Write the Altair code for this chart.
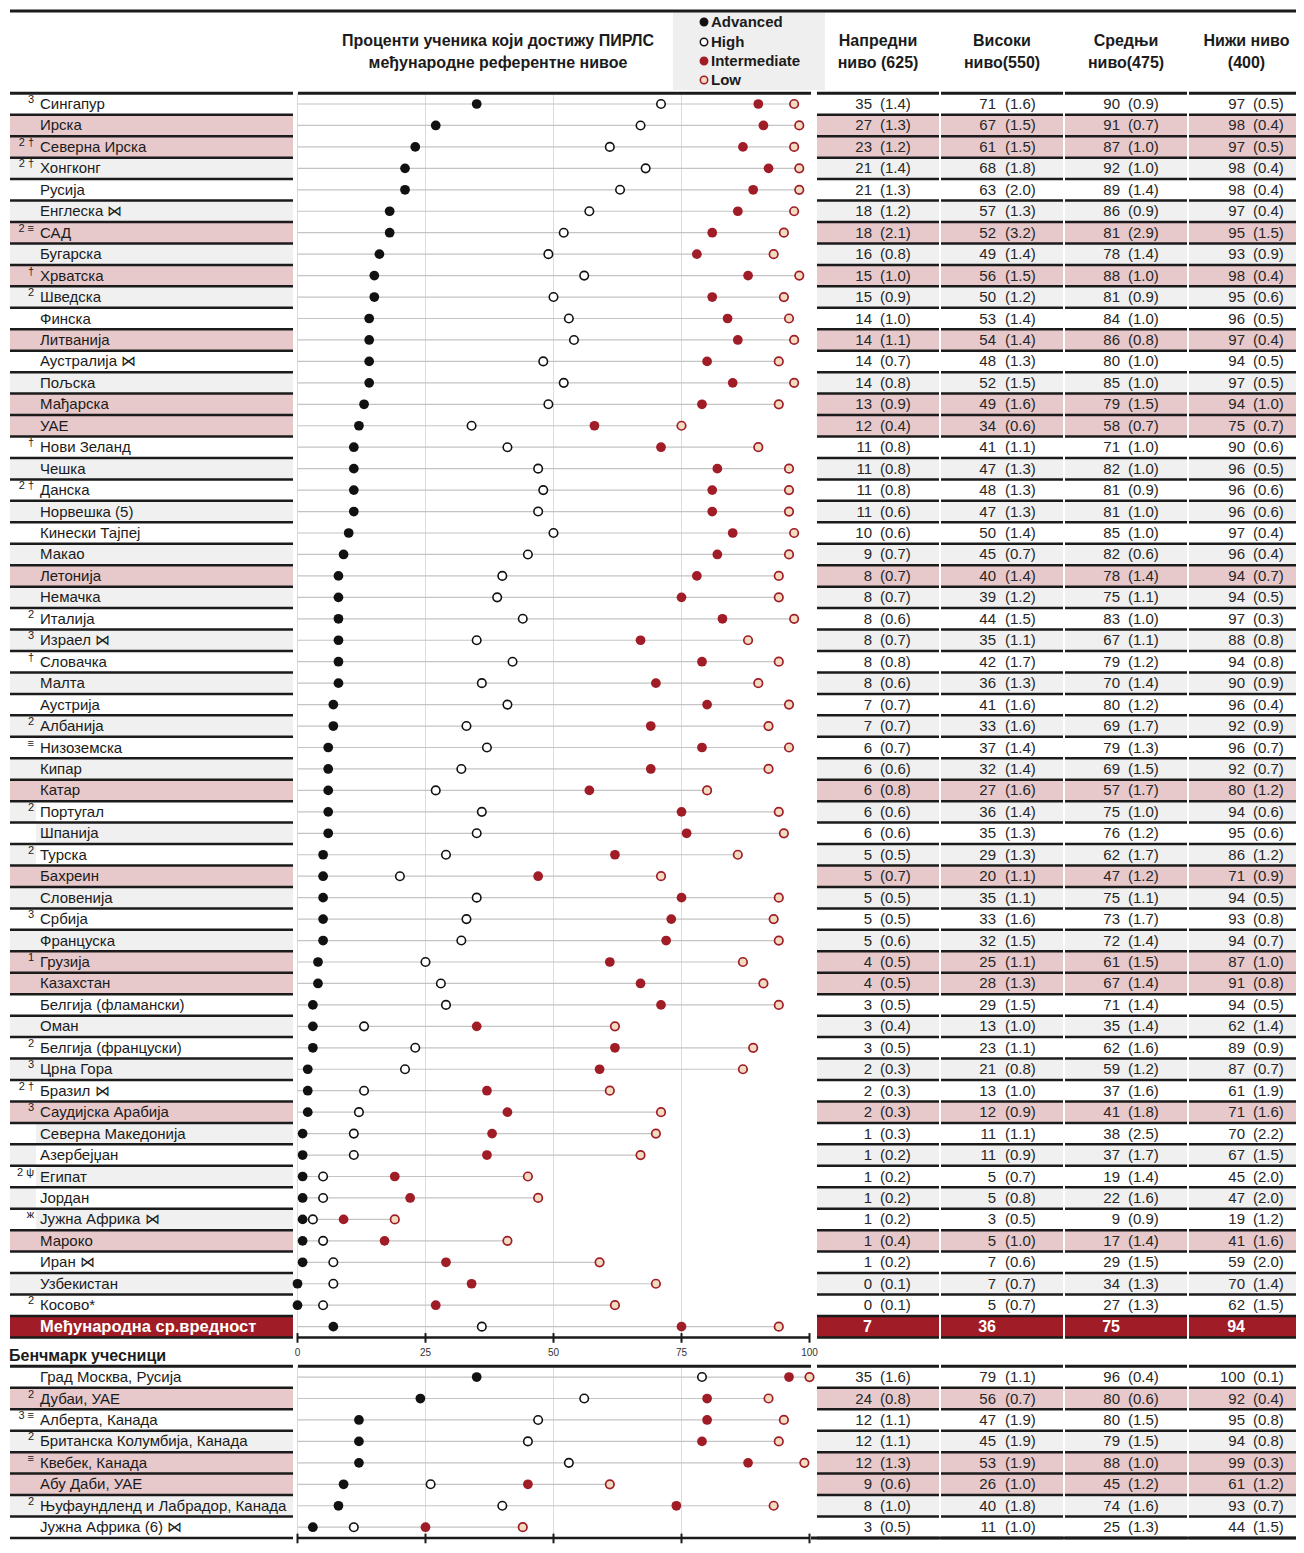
import altair as alt
import pandas as pd

# ---------------- data ----------------
countries = ["Сингапур", "Ирска", "Северна Ирска", "Хонгконг", "Русија", "Енглеска ⋈", "САД",
             "Бугарска", "Хрватска", "Шведска", "Финска", "Литванија", "Аустралија ⋈", "Пољска",
             "Мађарска", "УАЕ", "Нови Зеланд", "Чешка", "Данска", "Норвешка (5)", "Кинески Тајпеј",
             "Макао", "Летонија", "Немачка", "Италија", "Израел ⋈", "Словачка", "Малта", "Аустрија",
             "Албанија", "Низоземска", "Кипар", "Катар", "Португал", "Шпанија", "Турска", "Бахреин",
             "Словенија", "Србија", "Француска", "Грузија", "Казахстан", "Белгија (фламански)", "Оман",
             "Белгија (француски)", "Црна Гора", "Бразил ⋈", "Саудијска Арабија", "Северна Македонија",
             "Азербејџан", "Египат", "Јордан", "Јужна Африка ⋈", "Мароко", "Иран ⋈", "Узбекистан",
             "Косово*"]
notes = ["3", "", "2 †", "2 †", "", "", "2 ≡", "", "†", "2",
         "", "", "", "", "", "", "†", "", "2 †", "",
         "", "", "", "", "2", "3", "†", "", "", "2",
         "≡", "", "", "2", "", "2", "", "", "3", "",
         "1", "", "", "", "2", "3", "2 †", "3", "", "",
         "2 ψ", "", "ж", "", "", "", "2"]
row_bg = ("W P P G W G P G P G W P W G P P W G W G W G P G W G W G W G "
          "W G P G W G P G W G P P W G W G W P W G W G W P W G W").split()
name_bg = ("W P P G W G P G P G W P W G P P W G W G W G P G W G W G W G "
           "W G P W G W P G W G P P W G W G W P G W G W G P W G W").split()

adv = [35, 27, 23, 21, 21, 18, 18, 16, 15, 15, 14, 14, 14, 14, 13, 12, 11, 11, 11, 11,
       10, 9, 8, 8, 8, 8, 8, 8, 7, 7, 6, 6, 6, 6, 6, 5, 5, 5, 5, 5,
       4, 4, 3, 3, 3, 2, 2, 2, 1, 1, 1, 1, 1, 1, 1, 0, 0]
adv_se = [1.4, 1.3, 1.2, 1.4, 1.3, 1.2, 2.1, 0.8, 1.0, 0.9, 1.0, 1.1, 0.7, 0.8, 0.9, 0.4, 0.8, 0.8, 0.8, 0.6,
          0.6, 0.7, 0.7, 0.7, 0.6, 0.7, 0.8, 0.6, 0.7, 0.7, 0.7, 0.6, 0.8, 0.6, 0.6, 0.5, 0.7, 0.5, 0.5, 0.6,
          0.5, 0.5, 0.5, 0.4, 0.5, 0.3, 0.3, 0.3, 0.3, 0.2, 0.2, 0.2, 0.2, 0.4, 0.2, 0.1, 0.1]
high = [71, 67, 61, 68, 63, 57, 52, 49, 56, 50, 53, 54, 48, 52, 49, 34, 41, 47, 48, 47,
        50, 45, 40, 39, 44, 35, 42, 36, 41, 33, 37, 32, 27, 36, 35, 29, 20, 35, 33, 32,
        25, 28, 29, 13, 23, 21, 13, 12, 11, 11, 5, 5, 3, 5, 7, 7, 5]
high_se = [1.6, 1.5, 1.5, 1.8, 2.0, 1.3, 3.2, 1.4, 1.5, 1.2, 1.4, 1.4, 1.3, 1.5, 1.6, 0.6, 1.1, 1.3, 1.3, 1.3,
           1.4, 0.7, 1.4, 1.2, 1.5, 1.1, 1.7, 1.3, 1.6, 1.6, 1.4, 1.4, 1.6, 1.4, 1.3, 1.3, 1.1, 1.1, 1.6, 1.5,
           1.1, 1.3, 1.5, 1.0, 1.1, 0.8, 1.0, 0.9, 1.1, 0.9, 0.7, 0.8, 0.5, 1.0, 0.6, 0.7, 0.7]
inter = [90, 91, 87, 92, 89, 86, 81, 78, 88, 81, 84, 86, 80, 85, 79, 58, 71, 82, 81, 81,
         85, 82, 78, 75, 83, 67, 79, 70, 80, 69, 79, 69, 57, 75, 76, 62, 47, 75, 73, 72,
         61, 67, 71, 35, 62, 59, 37, 41, 38, 37, 19, 22, 9, 17, 29, 34, 27]
inter_se = [0.9, 0.7, 1.0, 1.0, 1.4, 0.9, 2.9, 1.4, 1.0, 0.9, 1.0, 0.8, 1.0, 1.0, 1.5, 0.7, 1.0, 1.0, 0.9, 1.0,
            1.0, 0.6, 1.4, 1.1, 1.0, 1.1, 1.2, 1.4, 1.2, 1.7, 1.3, 1.5, 1.7, 1.0, 1.2, 1.7, 1.2, 1.1, 1.7, 1.4,
            1.5, 1.4, 1.4, 1.4, 1.6, 1.2, 1.6, 1.8, 2.5, 1.7, 1.4, 1.6, 0.9, 1.4, 1.5, 1.3, 1.3]
low = [97, 98, 97, 98, 98, 97, 95, 93, 98, 95, 96, 97, 94, 97, 94, 75, 90, 96, 96, 96,
       97, 96, 94, 94, 97, 88, 94, 90, 96, 92, 96, 92, 80, 94, 95, 86, 71, 94, 93, 94,
       87, 91, 94, 62, 89, 87, 61, 71, 70, 67, 45, 47, 19, 41, 59, 70, 62]
low_se = [0.5, 0.4, 0.5, 0.4, 0.4, 0.4, 1.5, 0.9, 0.4, 0.6, 0.5, 0.4, 0.5, 0.5, 1.0, 0.7, 0.6, 0.5, 0.6, 0.6,
          0.4, 0.4, 0.7, 0.5, 0.3, 0.8, 0.8, 0.9, 0.4, 0.9, 0.7, 0.7, 1.2, 0.6, 0.6, 1.2, 0.9, 0.5, 0.8, 0.7,
          1.0, 0.8, 0.5, 1.4, 0.9, 0.7, 1.9, 1.6, 2.2, 1.5, 2.0, 2.0, 1.2, 1.6, 2.0, 1.4, 1.5]

avg_label = "Међународна ср.вредност"
avg_vals = [7, 36, 75, 94]

b_names = ["Град Москва, Русија", "Дубаи, УАЕ", "Алберта, Канада", "Британска Колумбија, Канада",
           "Квебек, Канада", "Абу Даби, УАЕ", "Њуфаундленд и Лабрадор, Канада", "Јужна Африка (6) ⋈"]
b_notes = ["", "2", "3 ≡", "2", "≡", "", "2", ""]
b_bg = ["W", "P", "W", "G", "P", "P", "G", "W"]
b_adv = [35, 24, 12, 12, 12, 9, 8, 3]
b_adv_se = [1.6, 0.8, 1.1, 1.1, 1.3, 0.6, 1.0, 0.5]
b_high = [79, 56, 47, 45, 53, 26, 40, 11]
b_high_se = [1.1, 0.7, 1.9, 1.9, 1.9, 1.0, 1.8, 1.0]
b_inter = [96, 80, 80, 79, 88, 45, 74, 25]
b_inter_se = [0.4, 0.6, 1.5, 1.5, 1.0, 1.2, 1.6, 1.3]
b_low = [100, 92, 95, 94, 99, 61, 93, 44]
b_low_se = [0.1, 0.4, 0.8, 0.8, 0.3, 1.2, 0.7, 1.5]

header_title = ["Проценти ученика који достижу ПИРЛС", "међународне референтне нивое"]
col_headers = [["Напредни", "ниво (625)"], ["Високи", "ниво(550)"], ["Средњи", "ниво(475)"], ["Нижи ниво", "(400)"]]
legend_items = ["Advanced", "High", "Intermediate", "Low"]
bench_title = "Бенчмарк учесници"
tick_values = [0, 25, 50, 75, 100]

# ---------------- style / layout ----------------
FONT = "Liberation Sans, Arial, Helvetica, sans-serif"
NFONT = "Liberation Sans Narrow, Arial Narrow, Liberation Sans, Arial, sans-serif"
INK = "#1b1b1b"
PINK, GRAY, WHITE, RED = "#E8C9CB", "#F0F0F0", "#FFFFFF", "#A01C26"
LOWFILL = "#F1DCC2"

W, H = 1288, 1537
ROW_PX = 21.45          # row pitch in pixels
ROW0_PX = 96.0          # centre of first row (chart pixels)
BENCH_POS = 59.35       # row position of first benchmark row
Y_DOMAIN = [-ROW0_PX / ROW_PX, (H - ROW0_PX) / ROW_PX]

XR = [289.5, 801.5]
NAME = (2, 285)
PREF_END = 28
COLS = [(809, 931), (933, 1055), (1057, 1179), (1181, 1296)]
NUM_R = [864, 988, 1112, 1237]
SE_L = [872, 997, 1120, 1245]
PLOT = (290, 803)

BG_SCALE = alt.Scale(domain=["W", "P", "G", "R"], range=[WHITE, PINK, GRAY, RED])
XS = alt.Scale(domain=[0, 100], range=XR, nice=False, zero=False)
YS = alt.Scale(domain=Y_DOMAIN, range=[0, H], nice=False, zero=False)

ONE = pd.DataFrame({"k": [0]})


def rows_df(names, nts, bg, nbg, a, ase, h, hse, m, mse, lo, lose, offset, section, avg=None):
    rows = []
    for i in range(len(names)):
        vals = [a[i], h[i], m[i], lo[i]]
        ses = [ase[i], hse[i], mse[i], lose[i]]
        r = dict(pos=offset + i, sec=section, note=nts[i], name=names[i], bg=bg[i], nbg=nbg[i], avg=0,
                 a=a[i], h=h[i], m=m[i], l=lo[i])
        for k in range(4):
            r[f"n{k}"] = str(vals[k])
            r[f"s{k}"] = f"({ses[k]:.1f})"
        rows.append(r)
    if avg is not None:
        r = dict(pos=offset + len(names), sec=section, note="", name=avg[0], bg="R", nbg="R", avg=1,
                 a=avg[1][0], h=avg[1][1], m=avg[1][2], l=avg[1][3])
        for k in range(4):
            r[f"n{k}"] = str(avg[1][k])
            r[f"s{k}"] = ""
        rows.append(r)
    return pd.DataFrame(rows)


df = pd.concat([
    rows_df(countries, notes, row_bg, name_bg, adv, adv_se, high, high_se, inter, inter_se,
            low, low_se, 0, "main", avg=(avg_label, avg_vals)),
    rows_df(b_names, b_notes, b_bg, b_bg, b_adv, b_adv_se, b_high, b_high_se, b_inter, b_inter_se,
            b_low, b_low_se, BENCH_POS, "bench"),
], ignore_index=True)
df["top"] = df["pos"] - 0.5
df["bot"] = df["pos"] + 0.5

N_MAIN = len(countries) + 1
MAIN_TOP, MAIN_BOT = -0.5, N_MAIN - 0.5
BENCH_TOP, BENCH_BOT = BENCH_POS - 0.5, BENCH_POS + len(b_names) - 0.5


def X(f):
    return alt.X(f, type="quantitative", scale=XS, axis=None)


def Y(f):
    return alt.Y(f, type="quantitative", scale=YS, axis=None)


def label(txt, x, y, size=16, weight="bold", align="center", color=INK, font=FONT):
    return alt.Chart(pd.DataFrame({"t": [txt]})).mark_text(
        align=align, baseline="middle", fontSize=size, fontWeight=weight, font=font, color=color
    ).encode(x=alt.value(x), y=alt.value(y), text="t:N")


def hline(x0, x1, pos, sw=3):
    return alt.Chart(pd.DataFrame({"p": [pos]})).mark_rule(color=INK, strokeWidth=sw).encode(
        x=alt.value(x0), x2=alt.value(x1), y=Y("p:Q"))


base = alt.Chart(df)
layers = []

# legend box in the header
layers.append(alt.Chart(ONE).mark_rect(color="#EFEFEF").encode(
    x=alt.value(665), x2=alt.value(817), y=alt.value(4), y2=alt.value(82)))

# row backgrounds
layers.append(base.mark_rect().encode(
    x=alt.value(NAME[0]), x2=alt.value(PREF_END), y=Y("top:Q"), y2="bot:Q",
    color=alt.Color("bg:N", scale=BG_SCALE, legend=None)))
layers.append(base.mark_rect().encode(
    x=alt.value(PREF_END), x2=alt.value(NAME[1]), y=Y("top:Q"), y2="bot:Q",
    color=alt.Color("nbg:N", scale=BG_SCALE, legend=None)))
for c0, c1 in COLS:
    layers.append(base.mark_rect().encode(
        x=alt.value(c0), x2=alt.value(c1), y=Y("top:Q"), y2="bot:Q",
        color=alt.Color("bg:N", scale=BG_SCALE, legend=None)))

# vertical grid lines in both plot panels
grid = pd.DataFrame([dict(g=g, y0=y0, y1=y1) for g in tick_values[:-1]
                     for (y0, y1) in [(MAIN_TOP, MAIN_BOT), (BENCH_TOP, BENCH_BOT)]])
layers.append(alt.Chart(grid).mark_rule(color="#DCDCDC", strokeWidth=1).encode(
    x=X("g:Q"), y=Y("y0:Q"), y2="y1:Q"))

# row lines from 0 to the low benchmark
layers.append(base.transform_calculate(start="0").mark_rule(color="#C4C4C4", strokeWidth=1.2).encode(
    x=X("start:Q"), x2="l:Q", y=Y("pos:Q")))

# dots
layers.append(base.mark_point(shape="circle", fill=LOWFILL, stroke=RED, strokeWidth=1.7,
                              size=72, opacity=1).encode(x=X("l:Q"), y=Y("pos:Q")))
layers.append(base.mark_circle(color=RED, size=95, opacity=1).encode(x=X("m:Q"), y=Y("pos:Q")))
layers.append(base.mark_point(shape="circle", fill=WHITE, stroke="#111111", strokeWidth=1.6,
                              size=72, opacity=1).encode(x=X("h:Q"), y=Y("pos:Q")))
layers.append(base.mark_circle(color="#111111", size=95, opacity=1).encode(x=X("a:Q"), y=Y("pos:Q")))

# row separators
for c0, c1 in [NAME] + COLS:
    layers.append(base.mark_rule(color=INK, strokeWidth=2.5).encode(
        x=alt.value(c0), x2=alt.value(c1), y=Y("bot:Q")))

# section lines
layers.append(alt.Chart(ONE).mark_rule(color=INK, strokeWidth=3).encode(
    x=alt.value(2), x2=alt.value(1296), y=alt.value(3)))
for x0, x1 in [NAME, PLOT] + COLS:
    layers.append(hline(x0, x1, MAIN_TOP))
    layers.append(hline(x0, x1, BENCH_TOP))
layers.append(hline(PLOT[1], 1296, BENCH_BOT))

# x axes (drawn under each plot panel)
for p in [MAIN_BOT, BENCH_BOT]:
    layers.append(hline(XR[0] + 0.5, XR[1] + 0.5, p, 2.5))
    tk = pd.DataFrame({"t": tick_values, "p0": [p - 0.2] * 5, "p1": [p + 0.25] * 5})
    layers.append(alt.Chart(tk).mark_rule(color=INK, strokeWidth=2).encode(
        x=X("t:Q"), y=Y("p0:Q"), y2="p1:Q"))
    tl = pd.DataFrame({"t": tick_values, "lab": [str(v) for v in tick_values], "p": [p + 0.72] * 5})
    layers.append(alt.Chart(tl).mark_text(fontSize=10, font=FONT, color="#333333",
                                          baseline="middle").encode(x=X("t:Q"), y=Y("p:Q"), text="lab:N"))

# texts
normal = base.transform_filter("datum.avg == 0")
special = base.transform_filter("datum.avg == 1")
layers.append(normal.mark_text(align="right", baseline="middle", fontSize=11, dy=-4, font=FONT,
                               color=INK).encode(x=alt.value(26), y=Y("pos:Q"), text="note:N"))
layers.append(normal.mark_text(align="left", baseline="middle", fontSize=15, font=FONT,
                               color=INK).encode(x=alt.value(32), y=Y("pos:Q"), text="name:N"))
layers.append(special.mark_text(align="left", baseline="middle", fontSize=16.5, font=FONT,
                                fontWeight="bold", color=WHITE).encode(x=alt.value(32), y=Y("pos:Q"),
                                                                      text="name:N"))
for k in range(4):
    layers.append(normal.mark_text(align="right", baseline="middle", fontSize=15, font=NFONT,
                                   color="#262626").encode(x=alt.value(NUM_R[k]), y=Y("pos:Q"),
                                                           text=f"n{k}:N"))
    layers.append(normal.mark_text(align="left", baseline="middle", fontSize=15, font=NFONT,
                                   color="#262626").encode(x=alt.value(SE_L[k]), y=Y("pos:Q"),
                                                           text=f"s{k}:N"))
    layers.append(special.mark_text(align="right", baseline="middle", fontSize=16, font=NFONT,
                                    fontWeight="bold", color=WHITE).encode(
        x=alt.value(NUM_R[k]), y=Y("pos:Q"), text=f"n{k}:N"))

# header texts
layers.append(label(header_title[0], 490, 33))
layers.append(label(header_title[1], 490, 55))
for k, (l1, l2) in enumerate(col_headers):
    cx = (COLS[k][0] + COLS[k][1]) / 2
    layers.append(label(l1, cx, 33))
    layers.append(label(l2, cx, 55))
leg_y = [14, 34, 53, 72]
sym = [dict(fill="#111111", stroke="#111111"), dict(fill=WHITE, stroke="#111111"),
       dict(fill=RED, stroke=RED), dict(fill=LOWFILL, stroke=RED)]
for k, item in enumerate(legend_items):
    layers.append(alt.Chart(ONE).mark_point(shape="circle", size=55, strokeWidth=1.5, opacity=1,
                                            **sym[k]).encode(x=alt.value(696), y=alt.value(leg_y[k])))
    layers.append(label(item, 703, leg_y[k], size=15, align="left"))

# benchmark section title
layers.append(alt.Chart(pd.DataFrame({"t": [bench_title], "p": [BENCH_TOP - 0.48]})).mark_text(
    align="left", baseline="middle", fontSize=16, fontWeight="bold", font=FONT, color=INK
).encode(x=alt.value(1), y=Y("p:Q"), text="t:N"))

chart = alt.layer(*layers).properties(
    width=W, height=H, padding=0, autosize=alt.AutoSizeParams(type="none")
).configure_view(strokeWidth=0)

chart.save("out.html", embed_options={"renderer": "svg", "actions": False})
